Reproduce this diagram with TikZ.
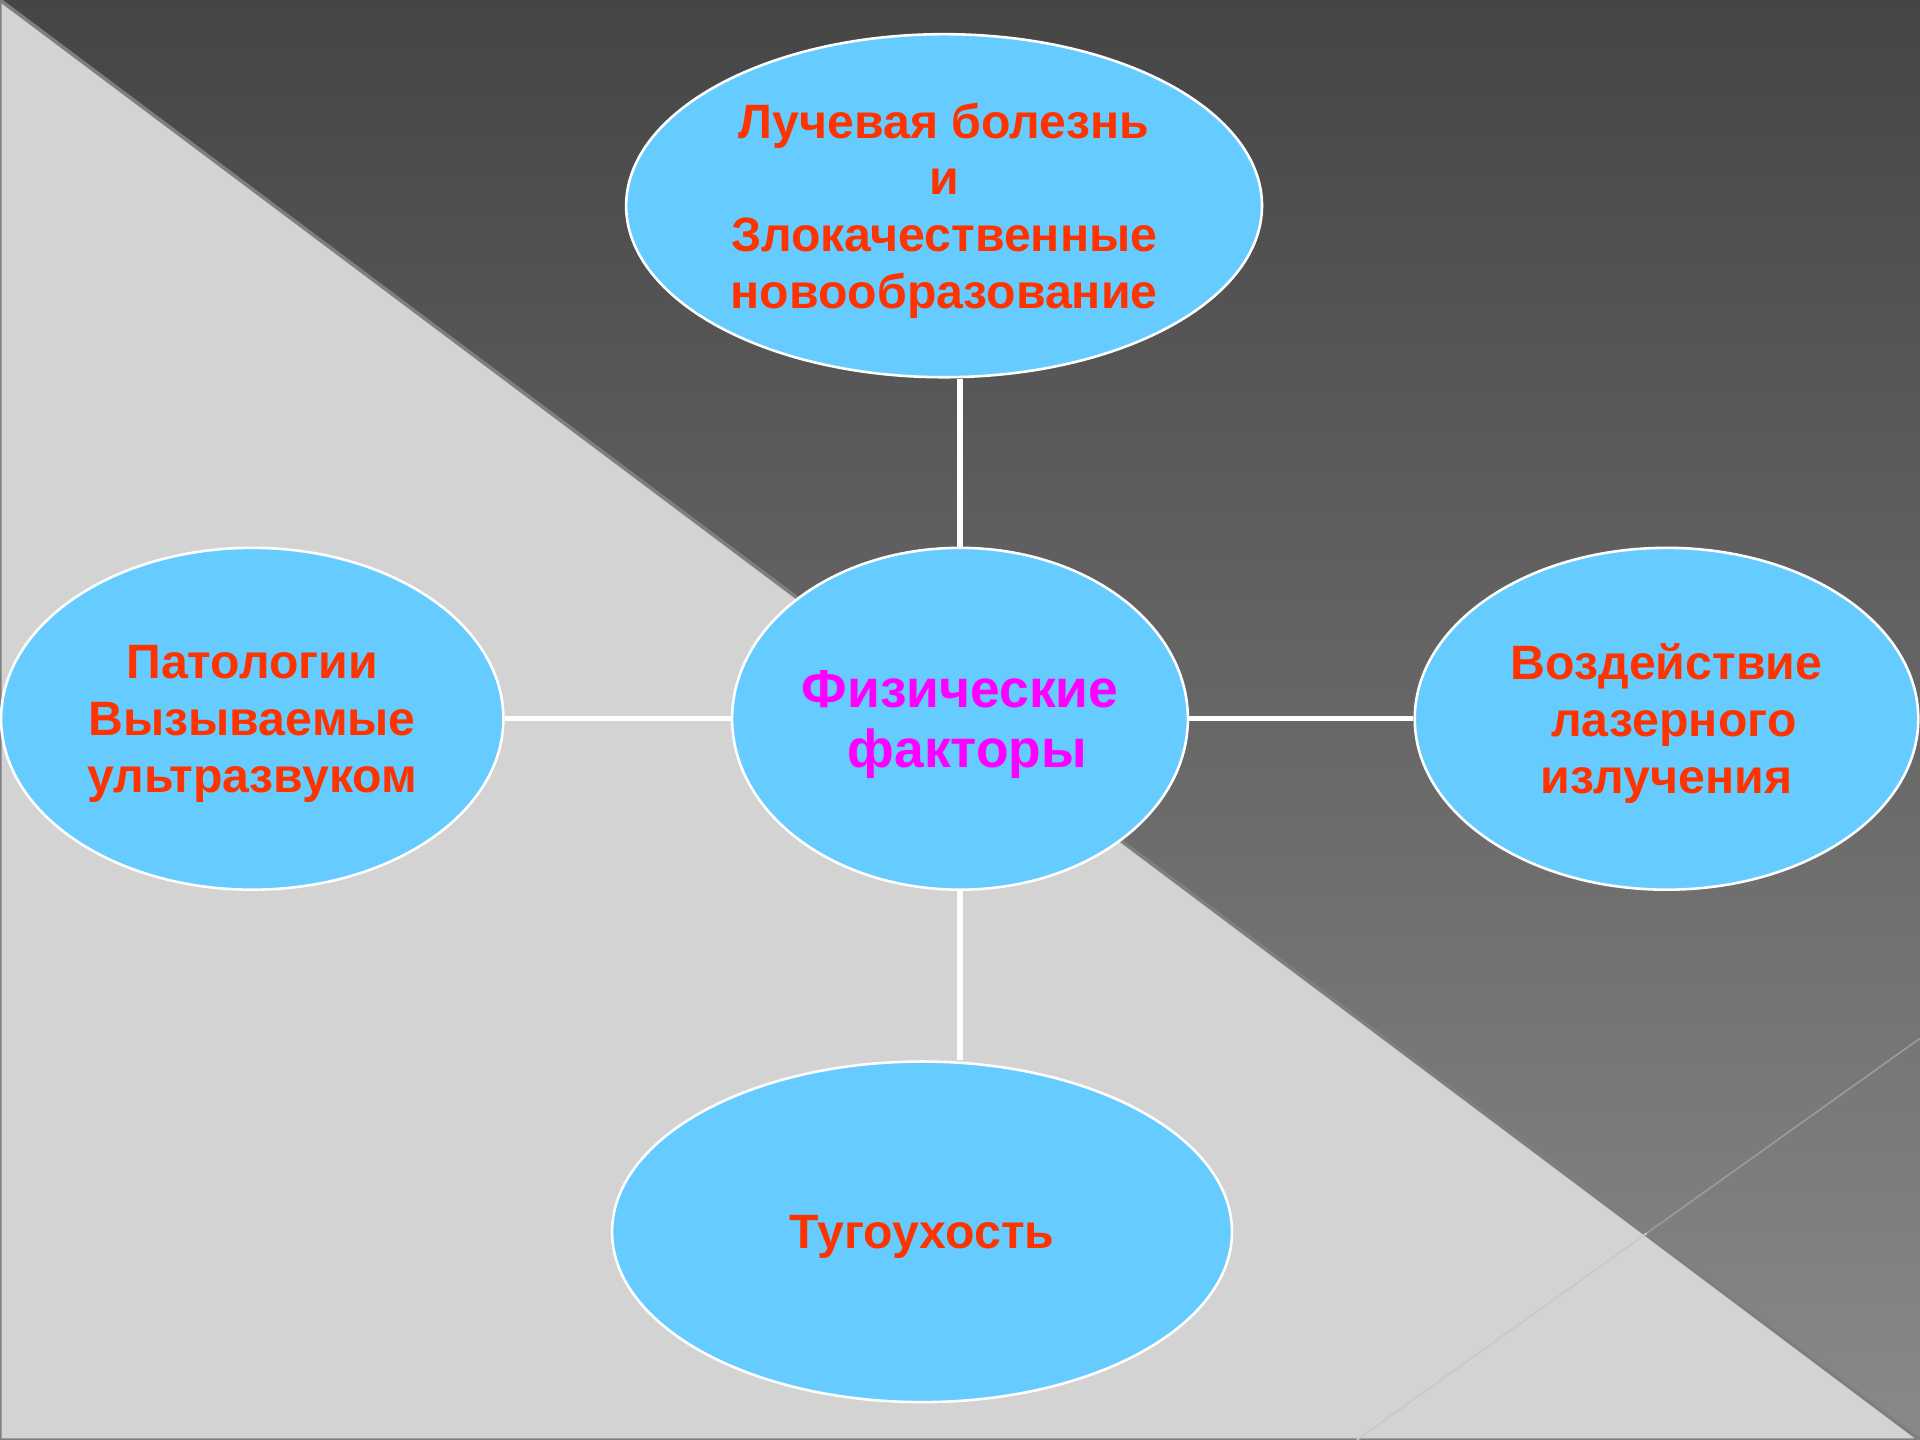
\documentclass[tikz,border=0pt]{standalone}
\usepackage{fontspec}
\setmainfont{Liberation Sans}
\usetikzlibrary{shapes.geometric}
\definecolor{nodeblue}{HTML}{66CCFF}
\definecolor{txtred}{HTML}{FF3300}
\definecolor{txtmag}{HTML}{FF00FF}
\definecolor{lightbg}{HTML}{D3D3D3}
\definecolor{darktop}{HTML}{454545}
\definecolor{darkbot}{HTML}{898989}
\definecolor{edgegray}{HTML}{7F7F7F}
\definecolor{thinup}{HTML}{9A9A9A}
\definecolor{thinlow}{HTML}{C9C9C9}
\begin{document}
\begin{tikzpicture}[x=0.01cm,y=-0.01cm,
  bubble/.style={ellipse, draw=white, line width=0.6pt, fill=nodeblue, inner sep=0pt,
    text depth=0pt, align=center, text=txtred, font=\fontsize{11.2}{13.2}\selectfont\bfseries},
  centerbubble/.style={bubble, text=txtmag, font=\fontsize{12.4}{14.0}\selectfont\bfseries},
  link/.style={draw=white, line width=1.2pt}]
\useasboundingbox (0,0) rectangle (1568,1176);
% background
\fill[lightbg] (0,0) rectangle (1568,1176);
\shade[top color=darktop, bottom color=darkbot] (0,0) -- (1568,0) -- (1568,1176) -- cycle;
\draw[edgegray, line width=0.8pt] (0,0) -- (0,1176) -- (1568,1176) -- cycle;
\draw[thinup, line width=0.4pt] (1568,848) -- (1345,1007);
\draw[thinlow, line width=0.4pt] (1345,1007) -- (1108,1176);
% nodes
\node[bubble, minimum width=5.19cm, minimum height=2.8cm] (top) at (771,168)
  {Лучевая болезнь\\и\\Злокачественные\\новообразование};
\node[centerbubble, minimum width=3.72cm, minimum height=2.79cm] (c) at (784,587)
  {Физические\\\hspace*{0.12cm}факторы};
\node[bubble, minimum width=4.1cm, minimum height=2.79cm] (l) at (206,587)
  {Патологии\\Вызываемые\\ультразвуком};
\node[bubble, minimum width=4.11cm, minimum height=2.79cm] (r) at (1361,587)
  {Воздействие\\\hspace*{0.12cm}лазерного\\излучения};
\node[bubble, minimum width=5.06cm, minimum height=2.78cm] (b) at (753,1006)
  {Тугоухость};
% connectors
\draw[link] (c.north) -- (c.north |- top.south);
\draw[link] (c.south) -- (c.south |- b.north);
\draw[link] (c.west) -- (l.east);
\draw[link] (c.east) -- (r.west);
\end{tikzpicture}
\end{document}
